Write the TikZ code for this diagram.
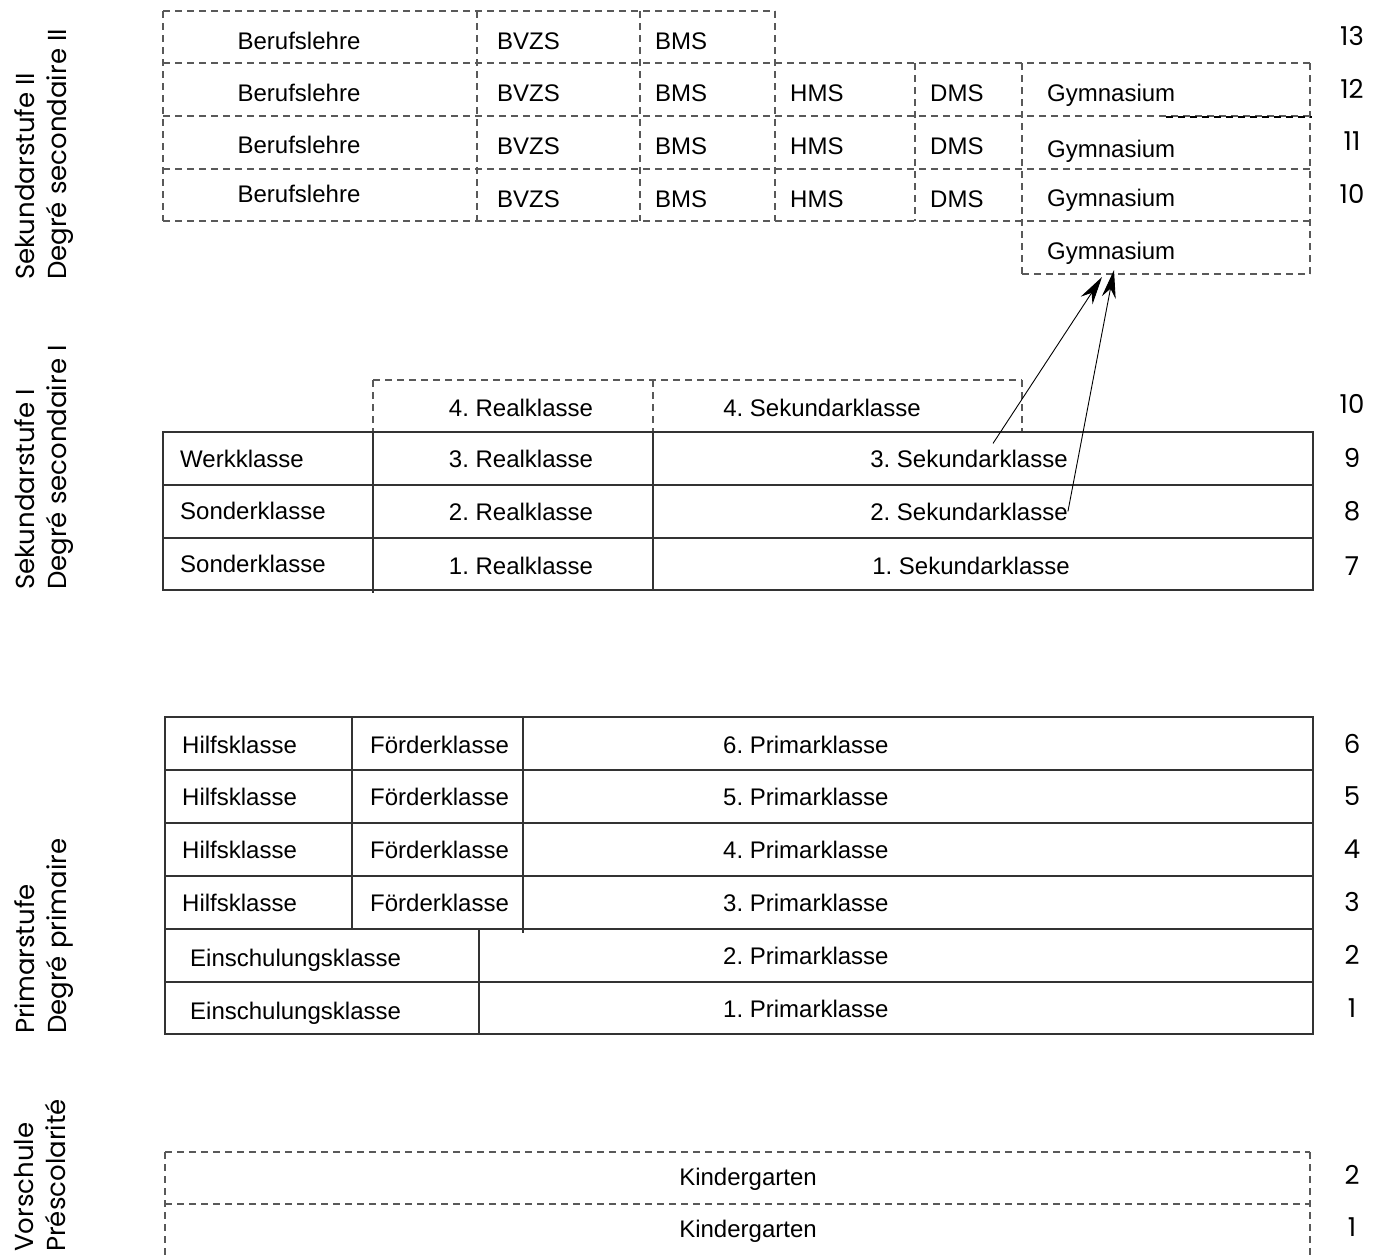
\documentclass[tikz,border=0pt]{standalone}
\usepackage{fontspec}
\setmainfont{Liberation Sans}
\newfontfamily\geofont{Poppins}
\usepackage{tikz}
\usetikzlibrary{arrows.meta}
\frenchspacing
\tikzstyle{line} = [draw, black!80, line width=1.2pt]
\tikzstyle{dline} = [draw, black!65, line width=1.1pt, dash pattern=on 7pt off 5pt]
\tikzstyle{cell} = [inner sep=0pt, anchor=base, font=\fontsize{24}{28}\selectfont]
\tikzstyle{lcell} = [cell, anchor=base west]
\tikzstyle{num} = [inner sep=0pt, anchor=base, font=\geofont\fontsize{26}{30}\selectfont]
\tikzstyle{stage} = [inner sep=0pt, rotate=90, anchor=north west, align=left, font=\geofont\fontsize{26}{32}\selectfont]
\tikzstyle{link} = [draw, line width=0.9pt, -{Stealth[length=28pt,width=14pt,inset=9pt]}]

\begin{document}
\begin{tikzpicture}[x=1pt, y=-1pt]
				\useasboundingbox (0,0) rectangle (1386,1254);

				% Stufen
				\node [stage] (sek2stage) at (14,280) {Sekundarstufe II\\Degré secondaire II};
				\node [stage] (sek1stage) at (14,590) {Sekundarstufe I\\Degré secondaire I};
				\node [stage] (primstage) at (14,1034) {Primarstufe\\Degré primaire};
				\node [stage] (vorstage) at (14,1252) {Vorschule\\Préscolarité};

				% Sekundarstufe II
				\path [dline] (163,11) -- (775,11);
				\path [dline] (163,63) -- (1310,63);
				\path [dline] (163,116) -- (1310,116);
				\path [dline] (163,169) -- (1310,169);
				\path [dline] (163,221) -- (1310,221);
				\path [dline] (1022,274) -- (1310,274);
				\path [dline] (163,11) -- (163,221);
				\path [dline] (477,11) -- (477,221);
				\path [dline] (640,11) -- (640,221);
				\path [dline] (775,11) -- (775,221);
				\path [dline] (915,63) -- (915,221);
				\path [dline] (1022,63) -- (1022,274);
				\path [dline] (1310,63) -- (1310,274);
				\path [dline, black] (1166,117) -- (1312,117);

				\node [cell] (beruf13) at (299,49) {Berufslehre};
				\node [lcell] (bvzs13) at (497,49) {BVZS};
				\node [lcell] (bms13) at (655,49) {BMS};
				\node [cell] (beruf12) at (299,101) {Berufslehre};
				\node [lcell] (bvzs12) at (497,101) {BVZS};
				\node [lcell] (bms12) at (655,101) {BMS};
				\node [lcell] (hms12) at (790,101) {HMS};
				\node [lcell] (dms12) at (930,101) {DMS};
				\node [lcell] (gym12) at (1047,101) {Gymnasium};
				\node [cell] (beruf11) at (299,153) {Berufslehre};
				\node [lcell] (bvzs11) at (497,154) {BVZS};
				\node [lcell] (bms11) at (655,154) {BMS};
				\node [lcell] (hms11) at (790,154) {HMS};
				\node [lcell] (dms11) at (930,154) {DMS};
				\node [lcell] (gym11) at (1047,157) {Gymnasium};
				\node [cell] (beruf10) at (299,202) {Berufslehre};
				\node [lcell] (bvzs10) at (497,207) {BVZS};
				\node [lcell] (bms10) at (655,207) {BMS};
				\node [lcell] (hms10) at (790,207) {HMS};
				\node [lcell] (dms10) at (930,207) {DMS};
				\node [lcell] (gym10) at (1047,206) {Gymnasium};
				\node [lcell] (gym9) at (1047,259) {Gymnasium};

				% Sekundarstufe I
				\path [dline] (373,380) -- (1022,380);
				\path [dline] (373,380) -- (373,432);
				\path [dline] (653,380) -- (653,432);
				\path [dline] (1022,380) -- (1022,432);
				\path [line] (163,432) rectangle (1313,590);
				\path [line] (163,485) -- (1313,485);
				\path [line] (163,538) -- (1313,538);
				\path [line] (373,432) -- (373,593);
				\path [line] (653,432) -- (653,590);

				\node [cell] (real4) at (521,416) {4. Realklasse};
				\node [cell] (sek4) at (822,416) {4. Sekundarklasse};
				\node [lcell] (werk) at (180,467) {Werkklasse};
				\node [cell] (real3) at (521,467) {3. Realklasse};
				\node [cell] (sek3) at (969,467) {3. Sekundarklasse};
				\node [lcell] (sonder8) at (180,519) {Sonderklasse};
				\node [cell] (real2) at (521,520) {2. Realklasse};
				\node [cell] (sek2) at (969,520) {2. Sekundarklasse};
				\node [lcell] (sonder7) at (180,572) {Sonderklasse};
				\node [cell] (real1) at (521,574) {1. Realklasse};
				\node [cell] (sek1) at (971,574) {1. Sekundarklasse};

				% Übertritt ins Gymnasium
				\coordinate (gymA) at (1102,277);
				\coordinate (gymB) at (1114,270);
				\path [link] ([xshift=24pt, yshift=6pt]sek3.north) -- (gymA);
				\path [link] (sek2.east) -- (gymB);

				% Primarstufe
				\path [line] (165,717) rectangle (1313,1034);
				\path [line] (165,770) -- (1313,770);
				\path [line] (165,823) -- (1313,823);
				\path [line] (165,876) -- (1313,876);
				\path [line] (165,929) -- (1313,929);
				\path [line] (165,982) -- (1313,982);
				\path [line] (352,717) -- (352,929);
				\path [line] (523,717) -- (523,933);
				\path [line] (479,929) -- (479,1034);

				\node [lcell] (hilfs6) at (182,753) {Hilfsklasse};
				\node [lcell] (foerder6) at (370,753) {Förderklasse};
				\node [lcell] (prim6) at (723,753) {6. Primarklasse};
				\node [lcell] (hilfs5) at (182,805) {Hilfsklasse};
				\node [lcell] (foerder5) at (370,805) {Förderklasse};
				\node [lcell] (prim5) at (723,805) {5. Primarklasse};
				\node [lcell] (hilfs4) at (182,858) {Hilfsklasse};
				\node [lcell] (foerder4) at (370,858) {Förderklasse};
				\node [lcell] (prim4) at (723,858) {4. Primarklasse};
				\node [lcell] (hilfs3) at (182,911) {Hilfsklasse};
				\node [lcell] (foerder3) at (370,911) {Förderklasse};
				\node [lcell] (prim3) at (723,911) {3. Primarklasse};
				\node [lcell] (einsch2) at (190,966) {Einschulungsklasse};
				\node [lcell] (prim2) at (723,964) {2. Primarklasse};
				\node [lcell] (einsch1) at (190,1019) {Einschulungsklasse};
				\node [lcell] (prim1) at (723,1017) {1. Primarklasse};

				% Vorschule
				\path [dline] (165,1152) -- (1310,1152);
				\path [dline] (165,1204) -- (1310,1204);
				\path [dline] (165,1152) -- (165,1256);
				\path [dline] (1310,1152) -- (1310,1256);

				\node [cell] (kiga2) at (748,1185) {Kindergarten};
				\node [cell] (kiga1) at (748,1237) {Kindergarten};

				% Schuljahre
				\node [num] (jahr13) at (1352,45) {13};
				\node [num] (jahr12) at (1352,98) {12};
				\node [num] (jahr11) at (1352,150) {11};
				\node [num] (jahr10b) at (1352,203) {10};
				\node [num] (jahr10a) at (1352,413) {10};
				\node [num] (jahr9) at (1352,467) {9};
				\node [num] (jahr8) at (1352,520) {8};
				\node [num] (jahr7) at (1352,575) {7};
				\node [num] (jahr6) at (1352,753) {6};
				\node [num] (jahr5) at (1352,805) {5};
				\node [num] (jahr4) at (1352,858) {4};
				\node [num] (jahr3) at (1352,911) {3};
				\node [num] (jahr2) at (1352,964) {2};
				\node [num] (jahr1) at (1352,1017) {1};
				\node [num] (kjahr2) at (1352,1184) {2};
				\node [num] (kjahr1) at (1352,1236) {1};
			\end{tikzpicture}
\end{document}
